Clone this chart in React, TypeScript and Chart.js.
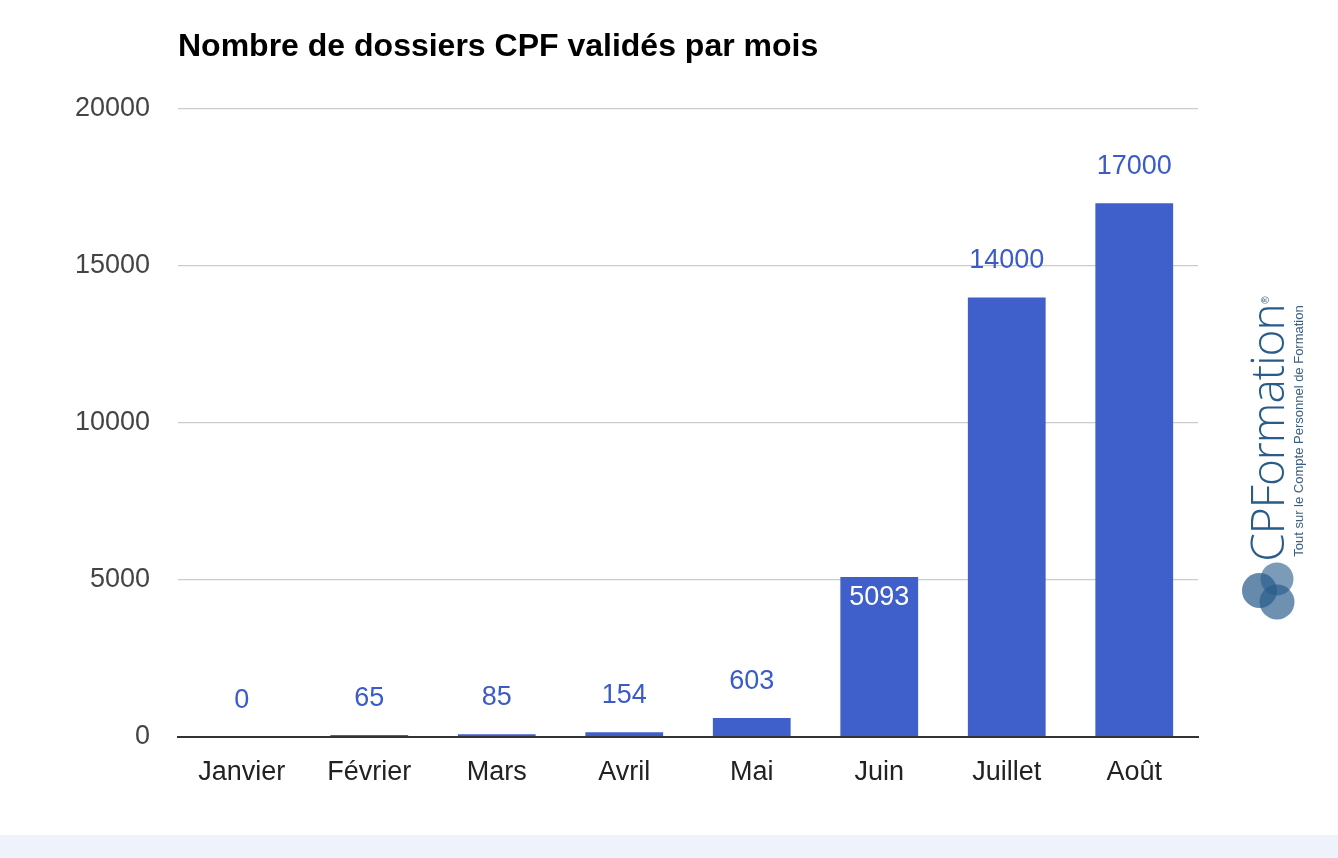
import React, { useEffect, useRef } from "react";
import { Chart, registerables } from "chart.js";

Chart.register(...registerables);

// Monthly counts of validated CPF files
const months = ["Janvier", "Février", "Mars", "Avril", "Mai", "Juin", "Juillet", "Août"];
const dossiers = [0, 65, 85, 154, 603, 5093, 14000, 17000];
// Where each value label sits: inside the top of the bar or above it
const labelInside = [false, false, false, false, false, true, false, false];
const yTicks = [0, 5000, 10000, 15000, 20000];

const TITLE = "Nombre de dossiers CPF validés par mois";
const BAR = "#3f5fca";
const FONT = "'Liberation Sans', Arial, Helvetica, sans-serif";

const valueLabels = {
  id: "valueLabels",
  afterDatasetsDraw(chart: any) {
    const ctx = chart.ctx;
    const meta = chart.getDatasetMeta(0);
    ctx.save();
    ctx.font = `27px ${FONT}`;
    ctx.textAlign = "center";
    ctx.textBaseline = "alphabetic";
    meta.data.forEach((bar: any, i: number) => {
      const text = String(dossiers[i]);
      if (labelInside[i]) {
        ctx.fillStyle = "#ffffff";
        ctx.fillText(text, bar.x, bar.y + 28);
      } else {
        ctx.fillStyle = "#3a5bc8";
        ctx.fillText(text, bar.x, bar.y - 29);
      }
    });
    ctx.restore();
  },
};

const titlePlugin = {
  id: "titleText",
  afterDraw(chart: any) {
    const ctx = chart.ctx;
    ctx.save();
    ctx.font = `bold 32px ${FONT}`;
    ctx.fillStyle = "#000000";
    ctx.textAlign = "left";
    ctx.textBaseline = "alphabetic";
    ctx.fillText(TITLE, chart.chartArea.left, 56);
    ctx.restore();
  },
};

function Rotated(props: { x: number; y: number; style: React.CSSProperties; children: React.ReactNode }) {
  return (
    <div style={{ position: "absolute", left: props.x, top: props.y, width: 0, height: 0 }}>
      <div
        style={{
          position: "absolute",
          transform: "translate(-50%, -50%) rotate(-90deg)",
          whiteSpace: "nowrap",
          lineHeight: 1,
          ...props.style,
        }}
      >
        {props.children}
      </div>
    </div>
  );
}

function Logo() {
  return (
    <>
      <svg width="80" height="80" style={{ position: "absolute", left: 1230, top: 550 }}>
        <circle cx="29.5" cy="40.5" r="17.5" fill="#2a5d8c" fillOpacity="0.72" />
        <circle cx="47" cy="29" r="16.5" fill="#2a5d8c" fillOpacity="0.62" />
        <circle cx="47" cy="52" r="17.5" fill="#2a5d8c" fillOpacity="0.68" />
      </svg>
      <Rotated
        x={1266}
        y={433}
        style={{
          fontFamily: "'Open Sans', 'Noto Sans', sans-serif",
          fontSize: 46,
          fontWeight: 300,
          color: "#285c8a",
          letterSpacing: -1,
        }}
      >
        CPFormation
      </Rotated>
      <Rotated x={1266} y={300} style={{ fontFamily: FONT, fontSize: 10, color: "#3a5f80" }}>
        ®
      </Rotated>
      <Rotated
        x={1298}
        y={431}
        style={{
          fontFamily: "'Liberation Sans Narrow', 'Liberation Sans', sans-serif",
          fontSize: 13,
          color: "#3a5f80",
        }}
      >
        Tout sur le Compte Personnel de Formation
      </Rotated>
    </>
  );
}

export default function App() {
  const ref = useRef<HTMLCanvasElement>(null);

  useEffect(() => {
    if (!ref.current) return;
    const chart = new Chart(ref.current, {
      type: "bar",
      data: {
        labels: months,
        datasets: [
          {
            data: dossiers,
            backgroundColor: BAR,
            borderWidth: 0,
            categoryPercentage: 1,
            barPercentage: 0.61,
          },
        ],
      },
      options: {
        animation: false,
        responsive: false,
        maintainAspectRatio: false,
        layout: { padding: { left: 0, right: 140, top: 109, bottom: 0 } },
        plugins: {
          legend: { display: false },
          title: { display: false },
          tooltip: { enabled: false },
        },
        scales: {
          x: {
            grid: { display: false },
            border: { display: true, color: "#333333", width: 2 },
            ticks: {
              color: "#222222",
              font: { family: FONT, size: 27 },
              padding: 11,
            },
            afterFit(scale: any) {
              scale.height = 98;
            },
          },
          y: {
            min: 0,
            max: 20000,
            afterBuildTicks(scale: any) {
              scale.ticks = yTicks.map((v) => ({ value: v }));
            },
            grid: {
              color: (c: any) => (c.tick && c.tick.value === 0 ? "#333333" : "#cccccc"),
              lineWidth: (c: any) => (c.tick && c.tick.value === 0 ? 2 : 1.2),
              drawTicks: false,
            },
            border: { display: false },
            ticks: {
              color: "#444444",
              font: { family: FONT, size: 27 },
              padding: 28,
              callback: (v: any) => String(v),
            },
            afterFit(scale: any) {
              scale.width = 178;
            },
          },
        },
      },
      plugins: [valueLabels, titlePlugin],
    });
    return () => chart.destroy();
  }, []);

  return (
    <div style={{ position: "fixed", left: 0, top: 0, width: 1338, height: 858, background: "#ffffff" }}>
      <canvas ref={ref} width={1338} height={835} style={{ display: "block" }} />
      <div style={{ position: "absolute", left: 0, top: 835, width: 1338, height: 23, background: "#eef2fb" }} />
      <Logo />
    </div>
  );
}
